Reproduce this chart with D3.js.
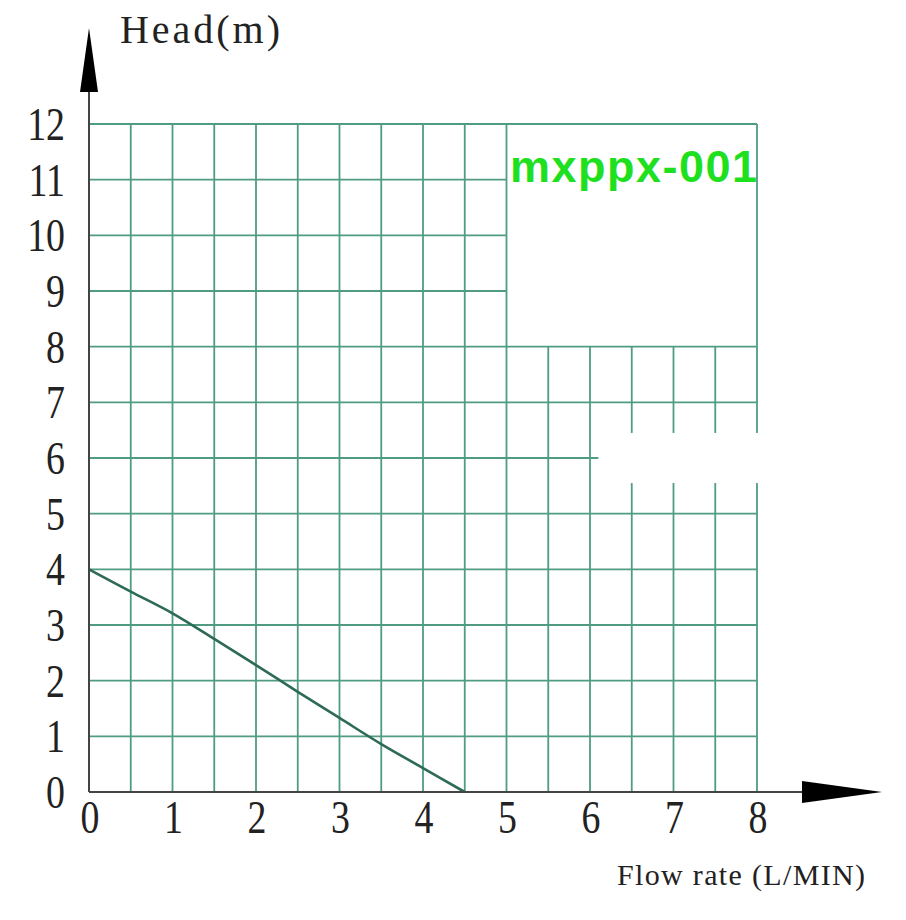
<!DOCTYPE html>
<html>
<head>
<meta charset="utf-8">
<script src="https://cdn.jsdelivr.net/npm/d3@7/dist/d3.min.js"></script>
<style>
  html, body { margin: 0; padding: 0; background: #fff; }
  svg { display: block; }
</style>
</head>
<body>
<svg id="chart" width="906" height="920"></svg>
<script>
// ---- data ----
const flowRate = [0, 0.5, 1, 1.5, 2, 2.5, 3, 3.5, 4, 4.5];
const head     = [4, 3.6, 3.21, 2.75, 2.28, 1.8, 1.33, 0.86, 0.43, 0];
const xTicks = [0, 1, 2, 3, 4, 5, 6, 7, 8];
const yTicks = [0, 1, 2, 3, 4, 5, 6, 7, 8, 9, 10, 11, 12];
const xGrid = [0.5, 1, 1.5, 2, 2.5, 3, 3.5, 4, 4.5, 5, 5.5, 6, 6.5, 7, 7.5, 8];
const yGrid = [1, 2, 3, 4, 5, 6, 7, 8, 9, 10, 11, 12];
const modelLabel = "mxppx-001";
const xTitle = "Flow rate (L/MIN)";
const yTitle = "Head(m)";

// ---- layout ----
const svg = d3.select("#chart");
const x = d3.scaleLinear().domain([0, 8]).range([89, 757]);
const y = d3.scaleLinear().domain([0, 12]).range([792, 124]);
const gridColor = "#4f9c82";

const grid = svg.append("g").attr("stroke", gridColor).attr("stroke-width", 1.8);

// vertical grid lines: those right of 5 stop at head 8 (blank label box)
xGrid.forEach(v => {
  const top = (v > 5 && v < 8) ? 8 : 12;
  grid.append("line")
    .attr("x1", x(v)).attr("x2", x(v))
    .attr("y1", y(0)).attr("y2", y(top));
});
// horizontal grid lines: those above 8 stop at flow 5 (except top border)
yGrid.forEach(v => {
  const right = (v > 8 && v < 12) ? 5 : 8;
  grid.append("line")
    .attr("x1", x(0)).attr("x2", x(right))
    .attr("y1", y(v)).attr("y2", y(v));
});

// faded patch in the scanned grid
svg.append("rect")
  .attr("x", x(6.1)).attr("y", y(6.45))
  .attr("width", x(8.15) - x(6.1)).attr("height", y(5.55) - y(6.45))
  .attr("fill", "#fff");

// ---- curve ----
const line = d3.line().x((d, i) => x(flowRate[i])).y(d => y(d)).curve(d3.curveCatmullRom.alpha(0.5));
svg.append("path")
  .datum(head)
  .attr("d", line)
  .attr("fill", "none")
  .attr("stroke", "#2e6b56")
  .attr("stroke-width", 2.6);

// ---- axes ----
const axisColor = "#444";
svg.append("line")
  .attr("x1", x(0)).attr("x2", 805)
  .attr("y1", y(0)).attr("y2", y(0))
  .attr("stroke", axisColor).attr("stroke-width", 2);
svg.append("line")
  .attr("x1", x(0)).attr("x2", x(0))
  .attr("y1", y(0)).attr("y2", 90)
  .attr("stroke", axisColor).attr("stroke-width", 2);

// arrowheads
svg.append("path")
  .attr("d", `M802,${y(0) - 11} L882,${y(0)} L802,${y(0) + 11} Z`)
  .attr("fill", "#000");
svg.append("path")
  .attr("d", `M${x(0) - 9},92 L${x(0)},28 L${x(0) + 9},92 Z`)
  .attr("fill", "#000");

// tick labels
const serif = "'Liberation Serif', 'Times New Roman', serif";
svg.append("g").selectAll("text")
  .data(yTicks).join("text")
  .attr("transform", d => `translate(65,${y(d)}) scale(0.86,1.05)`)
  .attr("text-anchor", "end")
  .attr("dominant-baseline", "central")
  .attr("font-family", serif)
  .attr("font-size", 44)
  .attr("fill", "#222")
  .text(d => d);

svg.append("g").selectAll("text")
  .data(xTicks).join("text")
  .attr("transform", d => `translate(${x(d) + 1},833) scale(0.86,1.05)`)
  .attr("text-anchor", "middle")
  .attr("font-family", serif)
  .attr("font-size", 44)
  .attr("fill", "#222")
  .text(d => d);

// titles
svg.append("text")
  .attr("x", 120).attr("y", 43)
  .attr("font-family", serif)
  .attr("font-size", 40)
  .attr("fill", "#222")
  .attr("textLength", 160)
  .text(yTitle);

svg.append("text")
  .attr("x", 617).attr("y", 885)
  .attr("font-family", serif)
  .attr("font-size", 30)
  .attr("fill", "#222")
  .attr("textLength", 248)
  .text(xTitle);

svg.append("text")
  .attr("x", 510).attr("y", 182)
  .attr("font-family", "'Liberation Sans', Arial, sans-serif")
  .attr("font-weight", "bold")
  .attr("font-size", 45)
  .attr("fill", "#1fe01f")
  .attr("textLength", 247)
  .text(modelLabel);
</script>
</body>
</html>
